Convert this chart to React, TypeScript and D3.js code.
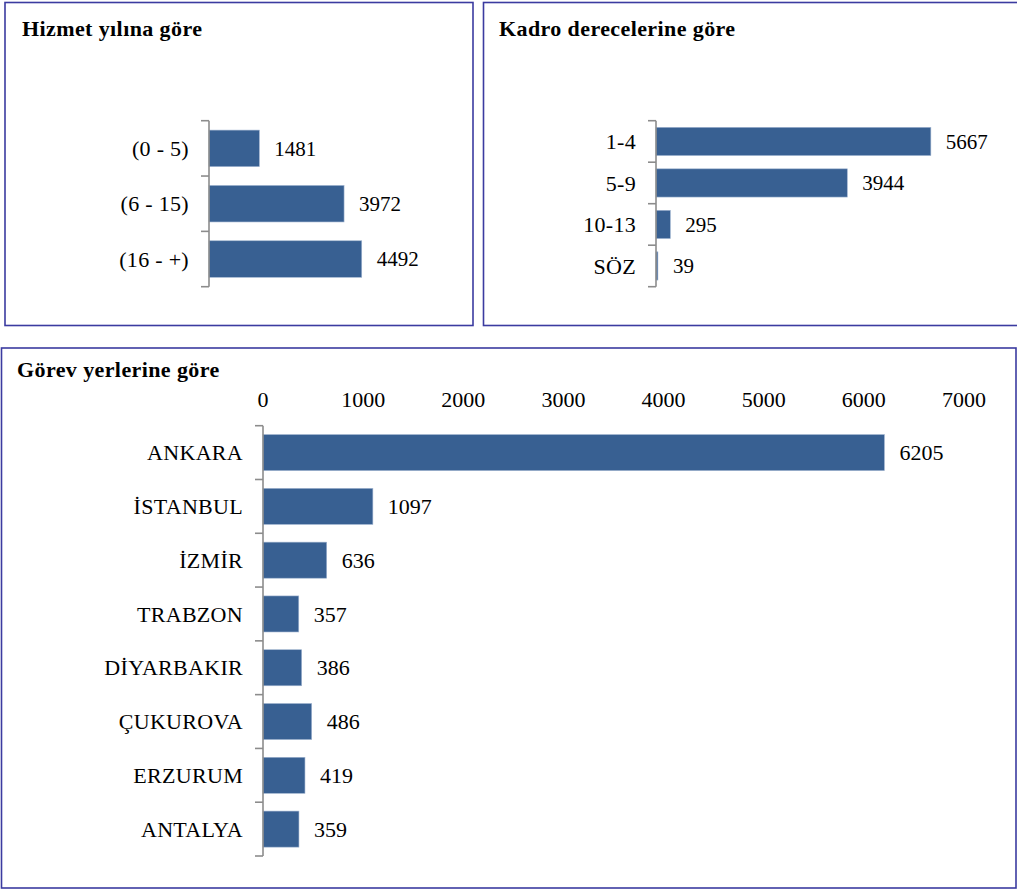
import React from "react";
import * as d3 from "d3";

const serviceCats = ["(0 - 5)", "(6 - 15)", "(16 - +)"];
const serviceVals = [1481, 3972, 4492];

const gradeCats = ["1-4", "5-9", "10-13", "SÖZ"];
const gradeVals = [5667, 3944, 295, 39];

const placeCats = ["ANKARA", "İSTANBUL", "İZMİR", "TRABZON", "DİYARBAKIR", "ÇUKUROVA", "ERZURUM", "ANTALYA"];
const placeVals = [6205, 1097, 636, 357, 386, 486, 419, 359];
const placeTicks = [0, 1000, 2000, 3000, 4000, 5000, 6000, 7000];

const FONT = "'Liberation Serif', 'Times New Roman', serif";
const BAR = "#386092";
const BORDER = "#3b3ba0";

type PanelProps = {
  cats: string[];
  vals: number[];
  x0: number;
  xMax: number;
  x1: number;
  y0: number;
  y1: number;
  pad: number;
  fs: number;
  ticks?: number[];
  tickY?: number;
};

function HBars({ cats, vals, x0, xMax, x1, y0, y1, pad, fs, ticks, tickY }: PanelProps) {
  const x = d3.scaleLinear().domain([0, xMax]).range([x0, x1]);
  const y = d3.scaleBand<string>().domain(cats).range([y0, y1]).paddingInner(pad).paddingOuter(pad / 2);
  const step = y.step();
  const edges = d3.range(cats.length + 1).map((i) => y0 + i * step);
  return (
    <g>
      {ticks &&
        ticks.map((t) => (
          <text key={t} x={x(t)} y={tickY} textAnchor="middle" fontSize={22} fontFamily={FONT} fill="#000">
            {t}
          </text>
        ))}
      {cats.map((c, i) => (
        <g key={c}>
          <rect
            x={x(0)}
            y={y(c)!}
            width={Math.max(0.5, x(vals[i]) - x(0))}
            height={y.bandwidth()}
            fill={BAR}
            stroke="#9fb3cf"
            strokeWidth={0.6}
          />
          <text
            x={x(0) - 20}
            y={y(c)! + y.bandwidth() / 2}
            dy="0.35em"
            textAnchor="end"
            fontSize={22}
            letterSpacing={0.3}
            fontFamily={FONT}
            fill="#000"
          >
            {c}
          </text>
          <text
            x={x(vals[i]) + 15}
            y={y(c)! + y.bandwidth() / 2}
            dy="0.35em"
            textAnchor="start"
            fontSize={fs}
            fontFamily={FONT}
            fill="#000"
          >
            {vals[i]}
          </text>
        </g>
      ))}
      <line x1={x0} x2={x0} y1={y0} y2={y1} stroke="#8c8c8c" strokeWidth={1.6} />
      {edges.map((e, i) => (
        <line key={i} x1={x0 - 8} x2={x0} y1={e} y2={e} stroke="#8c8c8c" strokeWidth={1.6} />
      ))}
    </g>
  );
}

export default function App() {
  return (
    <svg
      width={1017}
      height={890}
      style={{ position: "absolute", left: 0, top: 0, background: "#fff" }}
      fontFamily={FONT}
    >
      <rect x={0} y={0} width={1017} height={890} fill="#fff" />
      {/* boxes */}
      <rect x={5} y={2.5} width={468} height={323} fill="none" stroke={BORDER} strokeWidth={1.6} />
      <rect x={483.5} y={2.5} width={540} height={323} fill="none" stroke={BORDER} strokeWidth={1.6} />
      <rect x={1.5} y={348} width={1014.5} height={540} fill="none" stroke={BORDER} strokeWidth={1.6} />

      {/* titles */}
      <text x={22} y={36} fontSize={22} letterSpacing={0.4} fontWeight="bold" fontFamily={FONT}>Hizmet yılına göre</text>
      <text x={499} y={36} fontSize={22} letterSpacing={0.4} fontWeight="bold" fontFamily={FONT}>Kadro derecelerine göre</text>
      <text x={17} y={377} fontSize={22} letterSpacing={0.4} fontWeight="bold" fontFamily={FONT}>Görev yerlerine göre</text>

      <HBars cats={serviceCats} vals={serviceVals} x0={209} xMax={5000} x1={379} y0={120.7} y1={286.7} pad={0.34} fs={21} />
      <HBars cats={gradeCats} vals={gradeVals} x0={656} xMax={6000} x1={947} y0={120.7} y1={286.7} pad={0.32} fs={21} />
      <HBars
        cats={placeCats}
        vals={placeVals}
        x0={263}
        xMax={7000}
        x1={964}
        y0={425.7}
        y1={856}
        pad={0.33}
        fs={22}
        ticks={placeTicks}
        tickY={407}
      />
    </svg>
  );
}
